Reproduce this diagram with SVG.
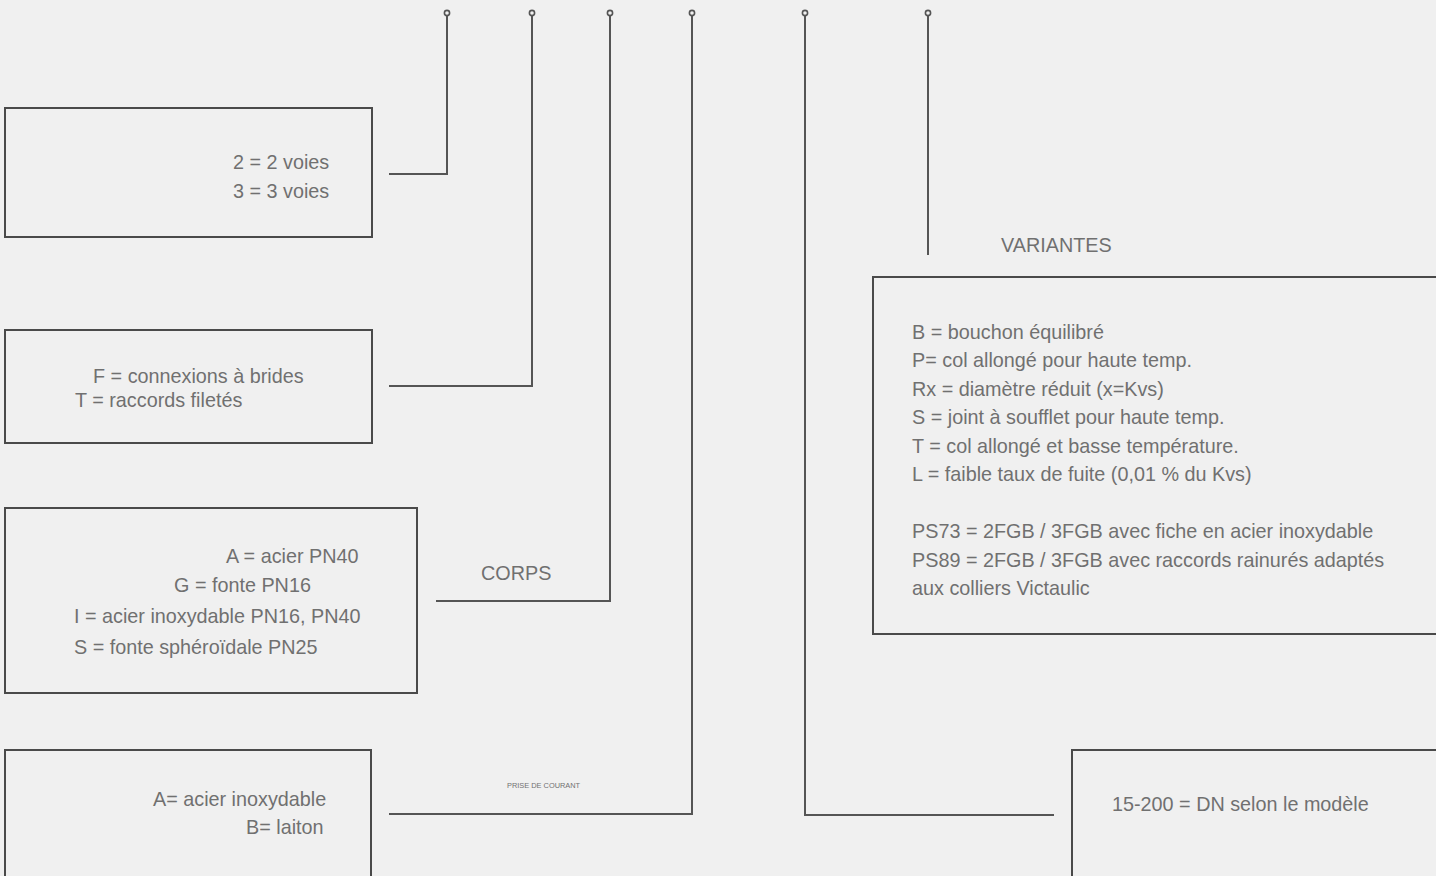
<svg xmlns="http://www.w3.org/2000/svg" width="1436" height="876" viewBox="0 0 1436 876">
<style>
.bg{fill:#f0f0f0}
.box{fill:#f0f0f0;stroke:#4a4a4a;stroke-width:2}
.ln{fill:none;stroke:#555;stroke-width:2}
.dot{fill:#f0f0f0;stroke:#555;stroke-width:1.6}
.t{font-family:"Liberation Sans",Arial,sans-serif;font-size:19.8px;fill:#707070}
.s{font-family:"Liberation Sans",Arial,sans-serif;font-size:7.4px;fill:#707070}
</style>
<rect class="bg" x="0" y="0" width="1436" height="876"/>
<g id="connectors">
<path class="ln" d="M447 16 V174 H389"/>
<path class="ln" d="M532 16 V386 H389"/>
<path class="ln" d="M610 16 V601 H436"/>
<path class="ln" d="M692 16 V814 H389"/>
<path class="ln" d="M805 16 V815 H1054"/>
<path class="ln" d="M928 16 V255"/>
<circle class="dot" cx="447" cy="13" r="2.6"/>
<circle class="dot" cx="532" cy="13" r="2.6"/>
<circle class="dot" cx="610" cy="13" r="2.6"/>
<circle class="dot" cx="692" cy="13" r="2.6"/>
<circle class="dot" cx="805" cy="13" r="2.6"/>
<circle class="dot" cx="928" cy="13" r="2.6"/>
</g>
<g id="voies">
<rect class="box" x="5" y="108" width="367" height="129"/>
<text class="t" x="233" y="169">2 = 2 voies</text>
<text class="t" x="233" y="198">3 = 3 voies</text>
</g>
<g id="connexions">
<rect class="box" x="5" y="330" width="367" height="113"/>
<text class="t" x="93" y="383">F = connexions à brides</text>
<text class="t" x="75" y="407">T = raccords filetés</text>
</g>
<g id="corps">
<rect class="box" x="5" y="508" width="412" height="185"/>
<text class="t" x="226" y="563">A = acier PN40</text>
<text class="t" x="174" y="592">G = fonte PN16</text>
<text class="t" x="74" y="623">I = acier inoxydable PN16, PN40</text>
<text class="t" x="74" y="654">S = fonte sphéroïdale PN25</text>
</g>
<g id="corps-label">
<text class="t" x="481" y="580">CORPS</text>
</g>
<g id="prise">
<rect class="box" x="5" y="750" width="366" height="140"/>
<text class="t" x="153" y="806">A= acier inoxydable</text>
<text class="t" x="246" y="834">B= laiton</text>
</g>
<g id="prise-label">
<text class="s" x="507" y="788">PRISE DE COURANT</text>
</g>
<g id="dn">
<rect class="box" x="1072" y="750" width="380" height="140"/>
<text class="t" x="1112" y="811">15-200 = DN selon le modèle</text>
</g>
<g id="variantes-label">
<text class="t" x="1001" y="252">VARIANTES</text>
</g>
<g id="variantes">
<rect class="box" x="873" y="277" width="580" height="357"/>
<text class="t" x="912" y="339">B = bouchon équilibré</text>
<text class="t" x="912" y="367">P= col allongé pour haute temp.</text>
<text class="t" x="912" y="396">Rx = diamètre réduit (x=Kvs)</text>
<text class="t" x="912" y="424">S = joint à soufflet pour haute temp.</text>
<text class="t" x="912" y="453">T = col allongé et basse température.</text>
<text class="t" x="912" y="481">L = faible taux de fuite (0,01 % du Kvs)</text>
<text class="t" x="912" y="538">PS73 = 2FGB / 3FGB avec fiche en acier inoxydable</text>
<text class="t" x="912" y="567">PS89 = 2FGB / 3FGB avec raccords rainurés adaptés</text>
<text class="t" x="912" y="595">aux colliers Victaulic</text>
</g>
</svg>
